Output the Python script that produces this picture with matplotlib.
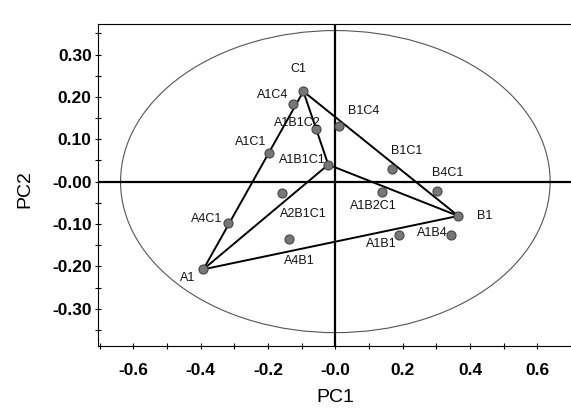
import numpy as np
import matplotlib
matplotlib.use('Agg')
import matplotlib.pyplot as plt
from matplotlib.patches import Ellipse

plt.rcParams['font.family'] = 'Liberation Sans'

# sample scores (PC1, PC2)
names = ['C1', 'A1C4', 'A1B1C2', 'B1C4', 'A1C1', 'A1B1C1', 'B1C1', 'A2B1C1',
         'A1B2C1', 'B4C1', 'B1', 'A4C1', 'A1B1', 'A1B4', 'A4B1', 'A1']
pc1 = [-0.095, -0.125, -0.056, 0.012, -0.196, -0.021, 0.169, -0.157,
       0.139, 0.303, 0.365, -0.318, 0.190, 0.344, -0.139, -0.392]
pc2 = [0.213, 0.184, 0.123, 0.132, 0.068, 0.040, 0.030, -0.027,
       -0.024, -0.022, -0.081, -0.098, -0.126, -0.126, -0.136, -0.207]

# label positions (data coords)
lab_x = [-0.110, -0.187, -0.113, 0.083, -0.252, -0.098, 0.211, -0.095,
         0.113, 0.334, 0.443, -0.383, 0.137, 0.289, -0.107, -0.440]
lab_y = [0.265, 0.205, 0.139, 0.167, 0.094, 0.051, 0.073, -0.076,
         -0.057, 0.020, -0.082, -0.089, -0.148, -0.122, -0.188, -0.228]

edges = [('A1', 'C1'), ('C1', 'B1'), ('B1', 'A1'),
         ('A1', 'A1B1C1'), ('C1', 'A1B1C1'), ('B1', 'A1B1C1')]

fig = plt.figure(figsize=(5.71, 4.13), dpi=100)
ax = fig.add_axes([98/571, 1 - 346/413, 1 - 98/571, 322/413])

ax.set_xlim(-0.705, 0.70)
ax.set_ylim(-0.388, 0.372)

ax.axhline(0, color='black', lw=1.6, zorder=2)
ax.axvline(0, color='black', lw=1.6, zorder=2)

ax.add_patch(Ellipse((0, 0), 1.276, 0.713, fill=False, ec='#555555', lw=0.8, zorder=1))

idx = {n: i for i, n in enumerate(names)}
for a, b in edges:
    ax.plot([pc1[idx[a]], pc1[idx[b]]], [pc2[idx[a]], pc2[idx[b]]],
            color='black', lw=1.4, zorder=3)

ax.plot(pc1, pc2, 'o', ms=6.5, mfc='#777777', mec='#444444', mew=0.8, ls='none', zorder=4)

for n, x, y in zip(names, lab_x, lab_y):
    ax.text(x, y, n, fontsize=9, ha='center', va='center', color='#111111', zorder=5)

xt = [-0.6, -0.4, -0.2, 0.0, 0.2, 0.4, 0.6]
xl = ['-0.6', '-0.4', '-0.2', '-0.0', '0.2', '0.4', '0.6']
yt = [-0.3, -0.2, -0.1, 0.0, 0.1, 0.2, 0.3]
yl = ['-0.30', '-0.20', '-0.10', '-0.00', '0.10', '0.20', '0.30']
ax.set_xticks(xt, xl)
ax.set_yticks(yt, yl)
ax.set_xticks(np.arange(-0.7, 0.71, 0.1), minor=True)
ax.set_yticks(np.arange(-0.35, 0.36, 0.05), minor=True)

ax.tick_params(which='both', direction='inout', length=5, width=0.8)
ax.tick_params(axis='x', which='major', pad=10, labelsize=12.5)
ax.tick_params(axis='y', which='major', pad=2, labelsize=12.5)
for lab in ax.get_xticklabels() + ax.get_yticklabels():
    lab.set_fontweight('bold')

ax.spines['right'].set_visible(False)
for s in ['left', 'bottom', 'top']:
    ax.spines[s].set_linewidth(0.8)

ax.set_xlabel('PC1', fontsize=14, va='center')
ax.set_ylabel('PC2', fontsize=14, va='center')
ax.xaxis.set_label_coords(237/473, -0.160)
ax.yaxis.set_label_coords(-0.154, 0.488)

fig.savefig('out.png', dpi=100)
